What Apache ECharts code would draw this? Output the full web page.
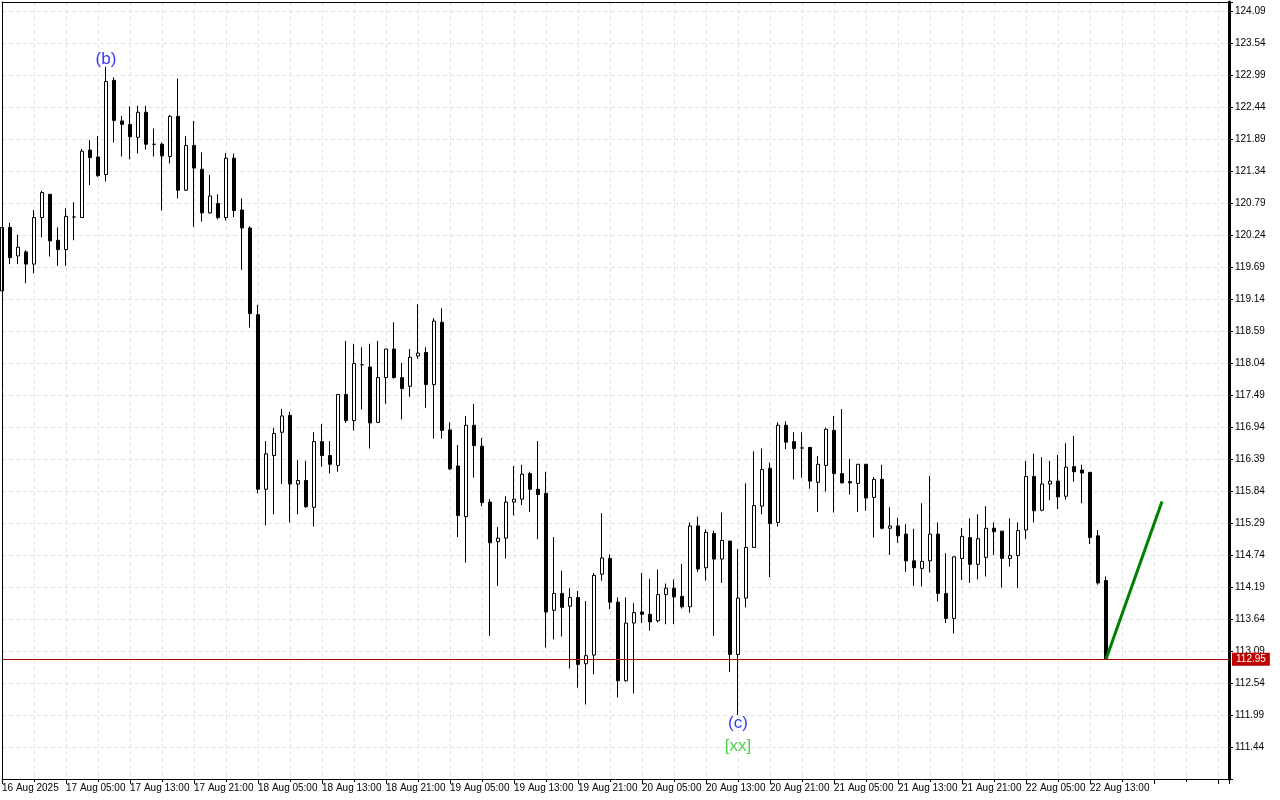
<!DOCTYPE html>
<html><head><meta charset="utf-8">
<script src="https://cdn.jsdelivr.net/npm/echarts@6/dist/echarts.min.js"></script>
<style>html,body{margin:0;padding:0;background:#fff}#c{width:1280px;height:800px}</style>
</head><body><div id="c"></div>
<script>
// Hourly bars, bar index 0 = 16 Aug 2025 21:00
const opens = [119.28,120.37,119.88,119.95,119.74,120.54,120.94,120.15,119.99,120.55,
120.54,121.70,121.58,121.28,122.90,122.20,122.14,121.92,122.35,121.80,
121.80,121.59,122.28,121.01,121.78,121.37,120.62,120.78,120.54,121.56,
120.67,120.36,118.87,115.87,116.45,116.85,117.14,115.96,116.02,115.56,
116.69,116.45,116.28,117.50,117.05,118.01,117.97,117.02,117.79,118.28,
117.79,117.64,118.16,118.22,117.67,118.74,116.89,116.27,115.40,116.97,
116.61,115.65,114.97,115.03,115.65,115.70,116.14,115.87,115.80,113.79,
114.08,113.86,114.01,112.87,113.02,114.41,114.68,113.93,112.58,113.57,
113.76,113.72,113.61,114.06,114.17,114.03,113.85,115.24,114.52,115.11,
114.67,114.98,113.03,114.00,114.87,115.58,116.23,115.30,116.97,116.69,
116.58,116.59,115.99,116.28,116.88,116.14,116.00,115.97,116.30,115.73,
116.04,115.20,115.24,115.10,114.64,114.51,114.64,115.10,114.08,113.65,
114.68,115.04,114.58,114.70,115.20,115.15,114.68,114.73,115.17,116.09,
115.51,115.96,116.01,115.75,116.26,116.20,116.16,115.07,114.30];
const highs = [120.37,120.45,120.24,119.98,120.67,121.00,120.94,120.37,120.70,120.80,
121.72,121.87,121.94,123.13,122.95,122.29,122.45,122.46,122.46,122.07,
121.83,122.30,122.93,121.94,122.20,121.66,121.27,120.94,121.65,121.64,
120.87,120.39,119.04,116.70,116.93,117.25,117.20,116.37,116.36,116.85,
116.99,116.70,117.50,118.42,118.37,118.31,118.37,118.42,118.28,118.74,
118.04,118.28,119.05,118.31,118.81,118.98,117.02,116.63,117.13,117.34,
116.75,115.70,115.22,115.75,116.27,116.29,116.17,116.70,116.17,115.05,
114.47,114.17,114.12,113.95,114.43,115.46,114.75,114.01,114.01,113.91,
114.43,114.33,114.49,114.25,114.32,114.59,115.30,115.40,115.18,115.16,
115.47,114.98,114.84,115.97,116.52,116.57,116.33,117.02,117.04,116.85,
116.85,116.59,116.44,116.93,117.13,117.25,116.39,116.30,116.30,116.08,
116.29,115.56,115.38,115.27,115.19,115.63,116.10,115.30,114.77,114.71,
115.20,115.37,115.44,115.58,115.30,115.15,115.37,115.30,116.36,116.48,
116.42,116.36,116.46,116.66,116.79,116.29,116.16,115.17,114.37];
const lows = [119.28,119.74,119.74,119.41,119.58,120.20,119.87,119.71,119.71,120.15,
120.54,121.10,121.24,121.16,121.83,121.59,121.54,121.64,121.71,121.59,
120.66,121.47,120.87,121.00,120.38,120.47,120.61,120.51,120.49,120.55,
119.64,118.65,115.80,115.25,115.44,115.96,115.30,115.44,115.55,115.23,
116.26,116.14,116.17,117.01,116.88,117.24,116.57,117.01,117.34,117.77,
117.07,117.46,118.11,117.27,116.74,116.74,116.20,115.05,114.61,116.07,
115.58,113.35,114.21,114.68,115.42,115.60,115.48,115.01,113.15,113.29,
113.34,112.79,112.46,112.17,112.69,114.30,113.81,112.29,112.56,112.36,
113.57,113.44,113.58,113.55,113.55,113.82,113.75,114.45,114.30,113.35,
114.26,112.73,111.99,113.84,114.87,115.44,114.36,115.23,116.56,116.04,
116.07,115.88,115.48,115.83,115.47,115.97,115.78,115.48,115.50,115.04,
115.18,114.74,114.95,114.45,114.21,114.20,114.44,113.94,113.57,113.39,
114.31,114.26,114.32,114.37,114.74,114.18,114.54,114.17,115.01,115.30,
115.49,115.68,115.53,115.69,116.00,115.63,114.93,114.23,112.94];
const closes = [120.37,119.85,120.03,119.74,120.54,120.97,120.14,119.99,120.56,120.55,
121.68,121.57,121.26,122.88,122.21,122.14,121.93,122.35,121.80,121.80,
121.60,122.28,121.01,121.78,121.39,120.62,120.91,120.54,121.56,120.66,
120.36,118.89,115.87,116.48,116.83,117.13,115.96,116.02,115.57,116.69,
116.45,116.30,117.50,117.05,118.03,118.01,117.01,117.79,118.28,117.79,
117.60,118.14,118.21,117.67,118.76,116.88,116.22,115.42,116.97,116.62,
115.64,114.95,115.03,115.65,115.70,116.13,115.87,115.78,113.76,114.08,
113.84,114.01,112.86,113.01,114.39,114.69,113.93,112.58,113.57,113.75,
113.72,113.59,114.06,114.17,114.02,113.85,115.24,114.50,115.13,114.67,
114.99,113.03,114.00,114.87,115.59,116.21,115.28,116.97,116.68,116.57,
116.58,116.01,116.30,116.90,116.14,115.98,115.98,116.30,115.72,116.04,
115.20,115.24,115.07,114.64,114.52,114.63,115.10,114.08,113.65,114.71,
115.06,114.58,115.02,115.20,115.14,114.68,114.73,115.16,116.09,115.50,
115.96,116.01,115.74,116.25,116.17,116.15,115.04,114.26,112.95];

const timeLabels = ['16 Aug 2025','17 Aug 05:00','17 Aug 13:00','17 Aug 21:00','18 Aug 05:00','18 Aug 13:00',
'18 Aug 21:00','19 Aug 05:00','19 Aug 13:00','19 Aug 21:00','20 Aug 05:00','20 Aug 13:00','20 Aug 21:00',
'21 Aug 05:00','21 Aug 13:00','21 Aug 21:00','22 Aug 05:00','22 Aug 13:00'];
const barsPerLabel = 8;

const currentPrice = 112.95;
const projectionBars = [138, 145];
const projectionPrices = [112.95, 115.66];

const waveBars = [13, 92];
const waveTexts = ['(b)', '(c)'];
const waveSubTexts = ['', '[xx]'];
const waveAnchors = ['high', 'low'];

const FONT = 'Liberation Sans, Arial, sans-serif';
const chart = echarts.init(document.getElementById('c'), null, {renderer: 'canvas'});

const candleData = opens.map((o, i) => [i, o, closes[i], lows[i], highs[i]]);
const gridLine = {show: true, lineStyle: {color: '#e3e3e3', width: 1, type: [4, 3]}};
const X_MIN = 0, X_MAX = 153.375, Y_MIN = 110.89, Y_MAX = 124.245;

const waveData = waveBars.map((b, i) => {
  const isHigh = waveAnchors[i] === 'high';
  return {
    value: [b, isHigh ? highs[b] : lows[b]],
    label: isHigh ? {
      show: true, position: 'top', distance: -1,
      formatter: waveTexts[i], color: '#0000ff', fontSize: 17, fontFamily: FONT
    } : {
      show: true, position: 'bottom', distance: -3,
      formatter: '{a|' + waveTexts[i] + '}\n{s|' + waveSubTexts[i] + '}',
      rich: {
        a: {color: '#0000ff', fontSize: 17, fontFamily: FONT, lineHeight: 23, align: 'center'},
        s: {color: '#22c422', fontSize: 17, fontFamily: FONT, lineHeight: 23, align: 'center'}
      }
    }
  };
});

const borderAxisCommon = {
  axisLine: {show: true, onZero: false, lineStyle: {color: '#000', width: 1}},
  axisTick: {show: false}, axisLabel: {show: false}, splitLine: {show: false}, z: 10
};

chart.setOption({
  animation: false,
  backgroundColor: '#ffffff',
  grid: {left: 2, right: 51, top: 2, bottom: 21, show: true, borderWidth: 0,
         backgroundColor: '#fff', outerBoundsMode: 'none'},
  xAxis: [{
    type: 'value', position: 'bottom', min: X_MIN, max: X_MAX, interval: barsPerLabel,
    axisLine: {show: true, onZero: false, lineStyle: {color: '#000', width: 1}},
    axisTick: {show: true, length: 5, lineStyle: {color: '#000'}},
    minorTick: {show: true, splitNumber: 2, length: 3, lineStyle: {color: '#000'}},
    splitLine: gridLine,
    minorSplitLine: gridLine,
    axisLabel: {
      show: true, align: 'left', margin: 4, color: '#000', fontSize: 10, fontFamily: FONT,
      showMinLabel: true, showMaxLabel: false,
      formatter: v => {
        const r = Math.round(v);
        if (Math.abs(v - r) > 1e-6 || r % barsPerLabel !== 0) return '';
        return timeLabels[r / barsPerLabel] || '';
      }
    }
  }, Object.assign({type: 'value', position: 'top', min: X_MIN, max: X_MAX}, borderAxisCommon)],
  yAxis: [{
    type: 'value', position: 'right', min: Y_MIN, max: Y_MAX, interval: 0.55,
    axisLine: {show: true, onZero: false, lineStyle: {color: '#000', width: 3}},
    axisTick: {show: true, length: 4, lineStyle: {color: '#000'}},
    splitLine: gridLine,
    axisLabel: {
      show: true, margin: 6, color: '#000', fontSize: 10, fontFamily: FONT,
      formatter: v => (v < 111 || v > 124.1) ? '' : v.toFixed(2)
    }
  }, Object.assign({type: 'value', position: 'left', min: Y_MIN, max: Y_MAX}, borderAxisCommon)],
  series: [
    {
      type: 'candlestick',
      data: candleData,
      encode: {x: 0, y: [1, 2, 3, 4]},
      barWidth: 4,
      itemStyle: {color: '#ffffff', color0: '#000000', borderColor: '#000000', borderColor0: '#000000', borderWidth: 1},
      emphasis: {disabled: true},
      markLine: {
        silent: true, symbol: ['none', 'none'], animation: false,
        lineStyle: {color: '#b00000', width: 1, type: 'solid'},
        label: {show: true, position: 'end', distance: 3, formatter: currentPrice.toFixed(2),
                backgroundColor: '#c00000', color: '#fff', fontSize: 10, fontFamily: FONT, padding: [2, 4, 1, 4]},
        data: [{yAxis: currentPrice}]
      }
    },
    {
      type: 'line',
      data: projectionBars.map((b, i) => [b, projectionPrices[i]]),
      symbol: 'none',
      lineStyle: {color: '#008000', width: 3},
      silent: true
    },
    {
      type: 'scatter',
      data: waveData,
      symbolSize: 0,
      itemStyle: {color: 'rgba(0,0,0,0)'},
      silent: true
    }
  ]
});
</script>
</body></html>
